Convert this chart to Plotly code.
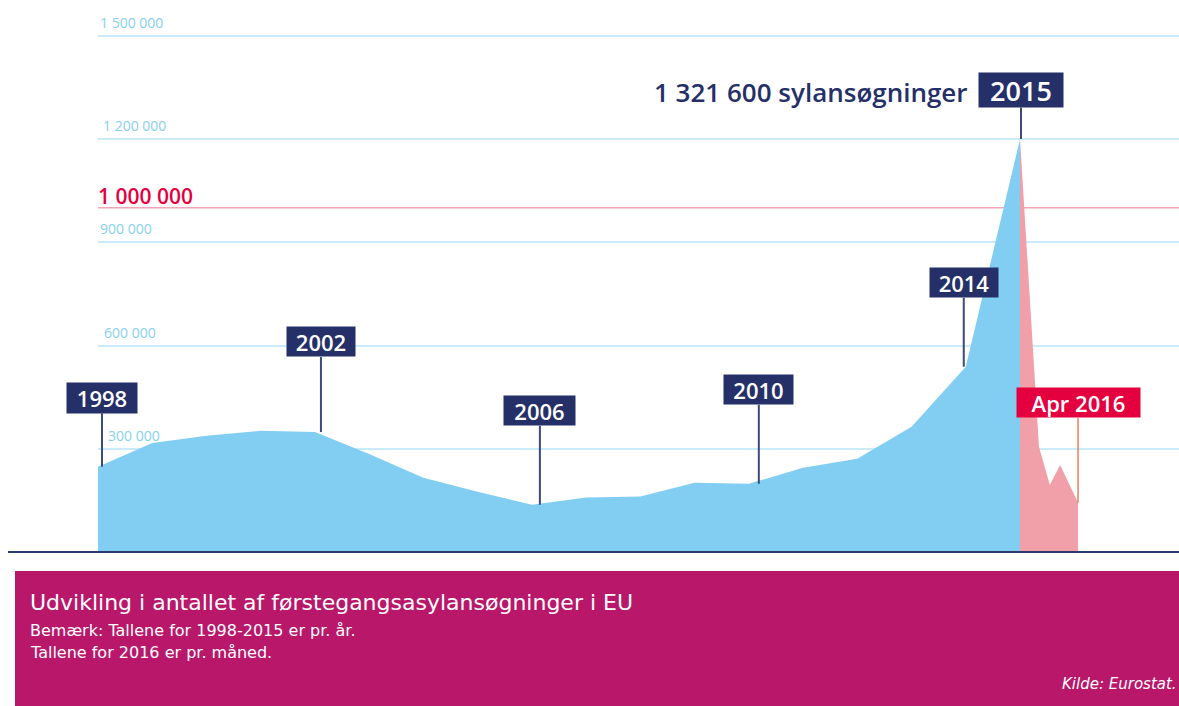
import plotly.graph_objects as go

# ---- data ----
years = list(range(1998, 2016))
yearly_values = [248000, 317000, 338000, 352000, 349000, 285000, 216000, 175000,
                 137000, 158000, 161000, 201000, 198000, 245000, 271000, 364000,
                 538000, 1200000]
months_2016 = ["Jan 2016", "Feb 2016", "Mar 2016", "Apr 2016"]
month_x = [2015.35, 2015.55, 2015.74, 2016.07]
monthly_values = [306000, 195000, 253000, 143000]

tick_vals = [300000, 600000, 900000, 1200000, 1500000]
tick_text = ["300 000", "600 000", "900 000", "1 200 000", "1 500 000"]
threshold = 1000000
threshold_text = "1 000 000"
label_years = [1998, 2002, 2006, 2010, 2014, 2015]
peak_text = "1 321 600 sylansøgninger"

title = "Udvikling i antallet af førstegangsasylansøgninger i EU"
note1 = "Bemærk: Tallene for 1998-2015 er pr. år."
note2 = "Tallene for 2016 er pr. måned."
source = "Kilde: Eurostat."

# ---- styles ----
BLUE = "#82cef3"
PINK = "#f19fa9"
NAVY = "#253068"
RED = "#e4003f"
GRID = "#c9ebfa"
TICK = "#86cff0"
MAGENTA = "#b8176a"
FONT = "Open Sans"
CAP_FONT = "DejaVu Sans"

fig = go.Figure()
fig.add_trace(go.Scatter(x=[years[-1]] + month_x, y=[yearly_values[-1]] + monthly_values,
                         mode="none", fill="tozeroy", fillcolor=PINK,
                         hoverinfo="skip", showlegend=False))
fig.add_trace(go.Scatter(x=years, y=yearly_values, mode="none", fill="tozeroy",
                         fillcolor=BLUE, hoverinfo="skip", showlegend=False))

px_per_year = 922 / 17
x_range = [1998, 1998 + 1081 / px_per_year]
y_top = 532 / 344.17 * 1e6

annotations = []
# y tick labels (small horizontal indents as in the original)
tick_indent = [8, 4, 0, 3, 0]
for v, t, ind in zip(tick_vals, tick_text, tick_indent):
    annotations.append(dict(xref="paper", yref="y", x=0, y=v, text=t, showarrow=False,
                            xanchor="left", yanchor="bottom", yshift=2, xshift=ind,
                            font=dict(family=FONT, size=14, color=TICK)))
annotations.append(dict(xref="paper", yref="y", x=-0.002, y=threshold, text=threshold_text,
                        showarrow=False, xanchor="left", yanchor="bottom", yshift=-4,
                        font=dict(family=FONT, size=21, color=RED, weight=600)))

# year labels: (offset y, shift x, box width, box height, font size)
label_style = {1998: (-69, 4, 70, 30, 22), 2002: (-90, 6, 68, 29, 22),
               2006: (-94, 8, 71, 29, 22), 2010: (-94, 10, 69, 29, 22),
               2014: (-84, -2, 68, 29, 22), 2015: (-49, 1, 84, 34, 27)}
for yr in label_years:
    val = yearly_values[years.index(yr)]
    ay, xs, w, h, fs = label_style[yr]
    annotations.append(dict(x=yr, y=val, xref="x", yref="y", text=str(yr), xshift=xs,
                            showarrow=True, arrowhead=0, arrowwidth=2, arrowcolor="#3d4a7c",
                            ax=0, ay=ay, bgcolor=NAVY, borderpad=0, width=w, height=h,
                            font=dict(family=FONT, size=fs, color="white", weight=600)))
annotations.append(dict(x=month_x[-1], y=monthly_values[-1], xref="x", yref="y",
                        text=months_2016[-1], showarrow=True, arrowhead=0, arrowwidth=1.2,
                        arrowcolor="#e8603c", ax=0, ay=-100, bgcolor=RED, borderpad=0,
                        width=123, height=29,
                        font=dict(family=FONT, size=22, color="white", weight=600)))
annotations.append(dict(x=years[-1], y=yearly_values[-1], xref="x", yref="y", text=peak_text,
                        showarrow=False, xanchor="right", yanchor="middle",
                        xshift=-50, yshift=47,
                        font=dict(family=FONT, size=26, color=NAVY, weight=600)))

# caption box texts
cx = -70 / 1081
annotations += [
    dict(xref="paper", yref="paper", x=cx, y=-50 / 532, text=title, showarrow=False,
         xanchor="left", yanchor="middle", font=dict(family=CAP_FONT, size=22, color="white")),
    dict(xref="paper", yref="paper", x=cx, y=-78 / 532, text=note1, showarrow=False,
         xanchor="left", yanchor="middle", font=dict(family=CAP_FONT, size=16, color="white")),
    dict(xref="paper", yref="paper", x=cx, y=-100 / 532, text=note2, showarrow=False,
         xanchor="left", yanchor="middle", font=dict(family=CAP_FONT, size=16, color="white")),
    dict(xref="paper", yref="paper", x=1.0, y=-132 / 532, text="<i>" + source + "</i>",
         showarrow=False, xanchor="right", yanchor="middle",
         font=dict(family=CAP_FONT, size=15, color="white")),
]

shapes = [
    dict(type="line", xref="paper", yref="y", x0=0, x1=1, y0=threshold, y1=threshold,
         line=dict(color="#f5a5b6", width=1.5), layer="below"),
    dict(type="line", xref="paper", yref="paper", x0=-90 / 1081, x1=1, y0=0, y1=0,
         line=dict(color="#2c3a6b", width=2)),
    dict(type="rect", xref="paper", yref="paper", x0=-83 / 1081, x1=1.0,
         y0=-154 / 532, y1=-19 / 532, fillcolor=MAGENTA, line=dict(width=0), layer="below"),
]

fig.update_layout(
    width=1179, height=706,
    margin=dict(l=98, r=0, t=20, b=154),
    paper_bgcolor="white", plot_bgcolor="white",
    xaxis=dict(range=x_range, showgrid=False, zeroline=False, showticklabels=False,
               showline=False, fixedrange=True),
    yaxis=dict(range=[0, y_top], tickvals=tick_vals, showticklabels=False,
               gridcolor=GRID, gridwidth=2, zeroline=False, showline=False, fixedrange=True),
    annotations=annotations, shapes=shapes, showlegend=False,
)

fig.write_html("out.html", config={"displayModeBar": False},
               post_script="document.body.style.margin='0';document.body.style.overflow='hidden';")
